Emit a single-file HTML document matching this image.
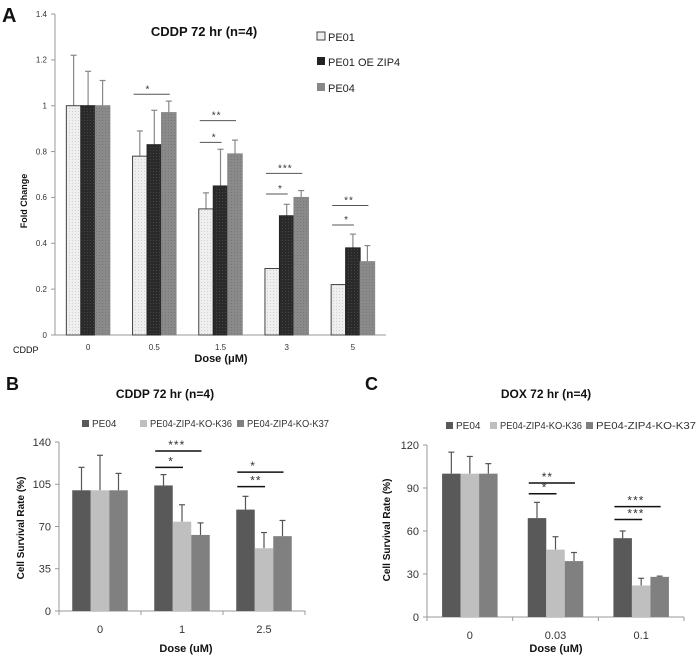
<!DOCTYPE html>
<html><head><meta charset="utf-8">
<style>
html,body{margin:0;padding:0;background:#fff;}
svg{display:block;font-family:"Liberation Sans",Arial,sans-serif;}
</style></head>
<body>
<svg id="fig" width="700" height="658" viewBox="0 0 700 658" xmlns="http://www.w3.org/2000/svg">
<defs>
<pattern id="dots" width="3" height="3" patternUnits="userSpaceOnUse"><rect width="3" height="3" fill="#efefef"/><rect width="1" height="1" fill="#d0d0d0"/></pattern>
<pattern id="hatchD" width="3" height="3" patternUnits="userSpaceOnUse"><rect width="3" height="3" fill="#2a2a2a"/><rect width="1" height="1" fill="#444"/></pattern>
<pattern id="hatchG" width="3" height="3" patternUnits="userSpaceOnUse"><rect width="3" height="3" fill="#8a8a8a"/><rect width="1" height="1" fill="#777"/></pattern>
</defs>
<g id="pA"></g>
<g id="pB"></g>
<g id="pC"></g>
</svg>
<script>
// Panel A data
const aCategories = ["0","0.5","1.5","3","5"];
const aPE01 = [1,0.78,0.55,0.29,0.22];
const aPE01Err = [1.22,0.89,0.62,null,null];
const aOE = [1,0.83,0.65,0.52,0.38];
const aOEErr = [1.15,0.98,0.81,0.57,0.44];
const aPE04 = [1,0.97,0.79,0.60,0.32];
const aPE04Err = [1.11,1.02,0.85,0.63,0.39];
const aTicks = ["0","0.2","0.4","0.6","0.8","1","1.2","1.4"];
const aSig = [[1,1.05,2,"*"],[2,0.84,1,"*"],[2,0.935,2,"**"],[3,0.615,1,"*"],[3,0.705,2,"***"],[4,0.48,1,"*"],[4,0.565,2,"**"]];
// Panel B data
const bCategories = ["0","1","2.5"];
const bPE04 = [100,104,84];
const bPE04Err = [119,113,95];
const bK36 = [100,74,52];
const bK36Err = [129,88,65];
const bK37 = [100,63,62];
const bK37Err = [114,73,75];
const bTicks = ["0","35","70","105","140"];
const bSig = [[1,119,1,"*"],[1,132.5,2,"***"],[2,103,1,"**"],[2,115,2,"*"]];
// Panel C data
const cCategories = ["0","0.03","0.1"];
const cPE04 = [100,69,55];
const cPE04Err = [115,80,60];
const cK36 = [100,47,22];
const cK36Err = [112,56,27];
const cK37 = [100,39,28];
const cK37Err = [107,45,28.5];
const cTicks = ["0","30","60","90","120"];
const cSig = [[1,86,1,"*"],[1,93.5,2,"**"],[2,68,1,"***"],[2,77,2,"***"]];

const NS="http://www.w3.org/2000/svg";
function mk(parent,tag,attrs,text){const e=document.createElementNS(NS,tag);for(const k in attrs)e.setAttribute(k,attrs[k]);if(text!==undefined)e.textContent=text;parent.appendChild(e);return e;}

function drawChart(g,cfg){
  const y=v=>cfg.y0-(v/cfg.max)*(cfg.y0-cfg.yTop);
  const n=cfg.cats.length, gw=(cfg.x1-cfg.x0)/n;
  const cx=i=>cfg.x0+gw*(i+0.5);
  const bx=(i,s)=>cx(i)-cfg.bw*1.5+s*cfg.bw;
  let e=mk(g,"line",{x1:cfg.x0,y1:cfg.yTop,x2:cfg.x0,y2:cfg.y0,stroke:"#999","stroke-width":1});
  
  
  e=mk(g,"line",{x1:cfg.x0,y1:cfg.y0,x2:cfg.x1,y2:cfg.y0,stroke:"#999","stroke-width":1});
  
  
  cfg.ticks.forEach(t=>{const v=parseFloat(t);
    e=mk(g,"text",{x:cfg.x0-8,y:y(v)+cfg.tfs*0.35,"text-anchor":"end","font-size":cfg.tfs,fill:"#333"},t);
    
    
    mk(g,"line",{x1:cfg.x0-4,y1:y(v),x2:cfg.x0,y2:y(v),stroke:"#999"});
  });
  if(cfg.sepTicks){for(let i=0;i<=n;i++)mk(g,"line",{x1:cfg.x0+gw*i,y1:cfg.y0,x2:cfg.x0+gw*i,y2:cfg.y0+4,stroke:"#999"});}
  cfg.cats.forEach((c,i)=>{
    e=mk(g,"text",{x:cx(i),y:cfg.y0+cfg.catDy,"text-anchor":"middle","font-size":cfg.cfs,fill:"#333"},c);
    
    
  });
  cfg.series.forEach((s,si)=>{
    s.vals.forEach((v,i)=>{
      const x=bx(i,si);
      const top=s.err[i];
      if(top!==null){
        mk(g,"line",{x1:x+cfg.bw/2,y1:y(top),x2:x+cfg.bw/2,y2:y(v),stroke:cfg.errC,"stroke-width":1.2});
        mk(g,"line",{x1:x+cfg.bw/2-3,y1:y(top),x2:x+cfg.bw/2+3,y2:y(top),stroke:cfg.errC,"stroke-width":1.2});
      }
      const r=mk(g,"rect",{x:x,y:y(v),width:cfg.bw,height:cfg.y0-y(v),fill:s.fill,stroke:s.stroke||"none","stroke-width":1});
      
      
    });
  });
  cfg.sig.forEach(sg=>{
    const i=sg[0], ly=y(sg[1]);
    const xa=bx(i,0)+1, xb=bx(i,sg[2])+cfg.bw*0.5+1;
    e=mk(g,"line",{x1:xa,y1:ly,x2:xb,y2:ly,stroke:cfg.sigC,"stroke-width":cfg.sigW});
    
    
    e=mk(g,"text",{x:xa+cfg.starDx,y:ly-2,"font-size":cfg.sfs,fill:"#333","letter-spacing":"1"},sg[3]);
    
    
  });
}

const A=document.getElementById("pA");
drawChart(A,{x0:55,x1:386,y0:335,yTop:14,max:1.4,bw:14.5,cats:aCategories,ticks:aTicks,tfs:8,cfs:8,catDy:15,errC:"#888",sigC:"#555",sigW:1,sfs:10,starDx:12,sepTicks:false,
 series:[{key:"pe01",vals:aPE01,err:aPE01Err,fill:"url(#dots)",stroke:"#444"},{key:"pe01-oe-zip4",vals:aOE,err:aOEErr,fill:"url(#hatchD)",stroke:"#222"},{key:"pe04",vals:aPE04,err:aPE04Err,fill:"url(#hatchG)",stroke:"#888"}],sig:aSig});
const B=document.getElementById("pB");
drawChart(B,{x0:59,x1:305,y0:611,yTop:442,max:140,bw:18.5,cats:bCategories,ticks:bTicks,tfs:11,cfs:11,catDy:22,errC:"#555",sigC:"#111",sigW:1.5,sfs:12,starDx:13,sepTicks:true,
 series:[{key:"pe04",vals:bPE04,err:bPE04Err,fill:"#595959"},{key:"k36",vals:bK36,err:bK36Err,fill:"#bfbfbf"},{key:"k37",vals:bK37,err:bK37Err,fill:"#808080"}],sig:bSig});
const C=document.getElementById("pC");
drawChart(C,{x0:427,x1:684,y0:617,yTop:445,max:120,bw:18.5,cats:cCategories,ticks:cTicks,tfs:11,cfs:11,catDy:22,errC:"#555",sigC:"#111",sigW:1.5,sfs:12,starDx:13,sepTicks:true,
 series:[{key:"pe04",vals:cPE04,err:cPE04Err,fill:"#595959"},{key:"k36",vals:cK36,err:cK36Err,fill:"#bfbfbf"},{key:"k37",vals:cK37,err:cK37Err,fill:"#808080"}],sig:cSig});
</script>
<svg width="700" height="658" style="position:absolute;left:0;top:0;font-family:'Liberation Sans',Arial,sans-serif">
<text x="2" y="22" font-size="20" font-weight="bold" fill="#111">A</text>
<text x="204" y="36" font-size="13" font-weight="bold" text-anchor="middle" fill="#111">CDDP 72 hr (n=4)</text>
<text x="27" y="201" font-size="9" font-weight="bold" text-anchor="middle" transform="rotate(-90 27 201)" fill="#111">Fold Change</text>
<text x="13" y="353" font-size="9" fill="#111">CDDP</text>
<text x="221" y="362" font-size="11" font-weight="bold" text-anchor="middle" fill="#111">Dose (μM)</text>
<rect x="317" y="32" width="8" height="8" fill="#eee" stroke="#444"/>
<text x="328" y="41" font-size="11" fill="#222">PE01</text>
<rect x="317" y="57" width="8" height="8" fill="#222"/>
<text x="328" y="66" font-size="11" fill="#222">PE01 OE ZIP4</text>
<rect x="317" y="83" width="8" height="8" fill="#888"/>
<text x="328" y="92" font-size="11" fill="#222">PE04</text>

<text x="6" y="390" font-size="18" font-weight="bold" fill="#111">B</text>
<text x="165" y="398" font-size="12" font-weight="bold" text-anchor="middle" fill="#111">CDDP 72 hr (n=4)</text>
<g font-size="10" fill="#333">
<rect x="82" y="420" width="7" height="7" fill="#595959"/><text x="92" y="427">PE04</text>
<rect x="140" y="420" width="7" height="7" fill="#bfbfbf"/><text x="150" y="427" textLength="82" lengthAdjust="spacingAndGlyphs">PE04-ZIP4-KO-K36</text>
<rect x="237" y="420" width="7" height="7" fill="#808080"/><text x="247" y="427" textLength="82" lengthAdjust="spacingAndGlyphs">PE04-ZIP4-KO-K37</text>
</g>
<text x="24" y="528" font-size="10" font-weight="bold" text-anchor="middle" transform="rotate(-90 24 528)" fill="#111">Cell Survival Rate (%)</text>
<text x="186" y="652" font-size="11" font-weight="bold" text-anchor="middle" fill="#111">Dose (uM)</text>

<text x="365" y="390" font-size="18" font-weight="bold" fill="#111">C</text>
<text x="546" y="398" font-size="12" font-weight="bold" text-anchor="middle" fill="#111">DOX 72 hr (n=4)</text>
<g font-size="10" fill="#333">
<rect x="446" y="422" width="7" height="7" fill="#595959"/><text x="456" y="429">PE04</text>
<rect x="490" y="422" width="7" height="7" fill="#bfbfbf"/><text x="500" y="429" textLength="82" lengthAdjust="spacingAndGlyphs">PE04-ZIP4-KO-K36</text>
<rect x="586" y="422" width="7" height="7" fill="#808080"/><text x="596" y="429" textLength="100" lengthAdjust="spacingAndGlyphs">PE04-ZIP4-KO-K37</text>
</g>
<text x="390" y="530" font-size="10" font-weight="bold" text-anchor="middle" transform="rotate(-90 390 530)" fill="#111">Cell Survival Rate (%)</text>
<text x="556" y="652" font-size="11" font-weight="bold" text-anchor="middle" fill="#111">Dose (uM)</text>
</svg>
</body></html>
